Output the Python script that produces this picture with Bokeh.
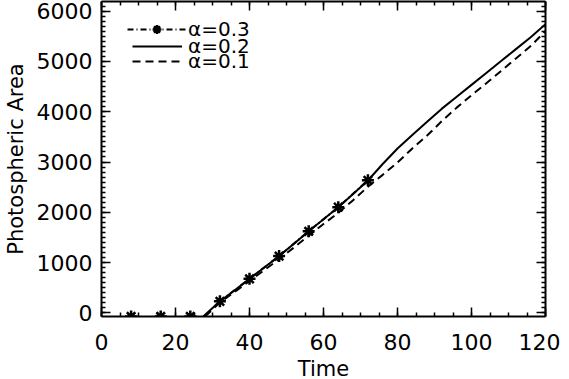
from bokeh.plotting import figure
from bokeh.models import LinearAxis, SingleIntervalTicker, Range1d, Legend, LegendItem
from bokeh.embed import file_html
from bokeh.resources import INLINE

# ---- data ----
# alpha = 0.3 : asterisks joined by dash-dot line
t_a03 = [8, 16, 24, 32, 40, 48, 56, 64, 72]
area_a03 = [-70, -70, -70, 231, 678, 1131, 1624, 2102, 2637]

# alpha = 0.2 : solid line
t_a02 = [27.5, 32, 36, 40, 44, 48, 52, 56, 60, 64, 68, 72, 76, 80, 84, 88,
         92, 96, 100, 104, 108, 112, 116, 120]
area_a02 = [-70, 231, 452, 678, 905, 1131, 1377, 1624, 1861, 2102, 2364, 2632,
            2961, 3269, 3536, 3798, 4061, 4297, 4533, 4770, 5006, 5243, 5479, 5740]

# alpha = 0.1 : dashed line
t_a01 = [28, 32, 36, 40, 44, 48, 52, 56, 60, 64, 68, 72, 76, 80, 84, 88,
         92, 96, 100, 104, 108, 112, 116, 120]
area_a01 = [-70, 206, 421, 637, 853, 1069, 1300, 1537, 1768, 1989, 2241, 2508,
            2745, 2991, 3269, 3526, 3814, 4081, 4328, 4564, 4811, 5058, 5304, 5603]

labels = ["\u03b1=0.3", "\u03b1=0.2", "\u03b1=0.1"]
x_label = "Time"
y_label = "Photospheric Area"

FONT = "DejaVu Sans"

p = figure(frame_width=444, frame_height=315,
           x_range=Range1d(0, 120), y_range=Range1d(-70, 6190),
           output_backend="svg", toolbar_location=None,
           min_border_left=96, min_border_right=15, min_border_top=1, min_border_bottom=0)
p.xgrid.visible = False
p.ygrid.visible = False
p.outline_line_color = None
p.xaxis.visible = False
p.yaxis.visible = False

xt = lambda: SingleIntervalTicker(interval=20, num_minor_ticks=4)
yt = lambda: SingleIntervalTicker(interval=1000, num_minor_ticks=10)


def style(ax, show_labels):
    ax.axis_line_width = 2
    ax.axis_line_color = "black"
    ax.major_tick_in = 9
    ax.major_tick_out = 0
    ax.minor_tick_in = 4
    ax.minor_tick_out = 0
    ax.major_tick_line_width = 1.5
    ax.minor_tick_line_width = 1.5
    ax.major_tick_line_color = "black"
    ax.minor_tick_line_color = "black"
    if show_labels:
        ax.major_label_text_font = FONT
        ax.major_label_text_font_size = "22px"
        ax.major_label_text_color = "black"
        ax.axis_label_text_font = FONT
        ax.axis_label_text_font_size = "21px"
        ax.axis_label_text_font_style = "normal"
        ax.axis_label_text_color = "black"
    else:
        ax.major_label_text_font_size = "0px"
        ax.major_label_standoff = 0


bottom = LinearAxis(ticker=xt(), axis_label=x_label)
style(bottom, True)
bottom.major_label_standoff = 17
bottom.axis_label_standoff = 4
left = LinearAxis(ticker=yt(), axis_label=y_label)
style(left, True)
left.major_label_standoff = 9
left.axis_label_standoff = 6
top = LinearAxis(ticker=xt())
style(top, False)
right = LinearAxis(ticker=yt())
style(right, False)
p.add_layout(bottom, "below")
p.add_layout(left, "left")
p.add_layout(top, "above")
p.add_layout(right, "right")

# the dash-dot connecting line is only visible where the curve has risen above zero
rise = [i for i, v in enumerate(area_a03) if v > 0]
r3l = p.line([t_a03[i] for i in rise], [area_a03[i] for i in rise],
             line_color="black", line_width=2, line_dash="6 3 1 3")
r3s = p.scatter(t_a03, area_a03, marker="asterisk", size=12, line_color="black", line_width=2.5)
r2 = p.line(t_a02, area_a02, line_color="black", line_width=2)
r1 = p.line(t_a01, area_a01, line_color="black", line_width=2, line_dash="8 5")

rows = [([r3l, r3s], labels[0], 26, 59, 2), ([r2], labels[1], 31, 50, 6), ([r1], labels[2], 31, 50, 6)]
vys = [275, 258, 243]
for (rs, lab, vx, gw, so), vy in zip(rows, vys):
    lg = Legend(items=[LegendItem(label=lab, renderers=rs)], location=(vx, vy),
                padding=0, margin=0, border_line_color=None, background_fill_alpha=0,
                glyph_width=gw, glyph_height=22, label_height=22, label_standoff=so,
                label_text_font=FONT, label_text_font_size="20px", label_text_color="black")
    p.add_layout(lg, "center")

open("out.html", "w").write(file_html(p, INLINE))
